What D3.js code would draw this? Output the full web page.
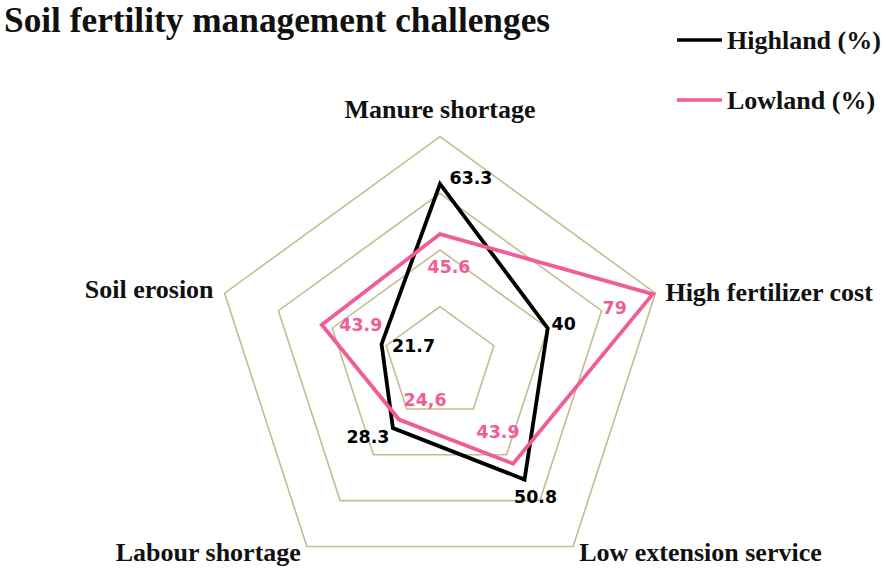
<!DOCTYPE html>
<html>
<head>
<meta charset="utf-8">
<script src="https://cdn.jsdelivr.net/npm/d3@7"></script>
<style>
  body { margin: 0; background: #fff; }
  .cat { font-family: "Liberation Serif", "Times New Roman", serif; font-weight: bold; font-size: 26px; fill: #111; }
  .val { font-family: "DejaVu Sans", Verdana, sans-serif; font-weight: bold; font-size: 17.4px; }
</style>
</head>
<body>
<div id="chart"></div>
<script>
const categories = ["Manure shortage", "High fertilizer cost", "Low extension service", "Labour shortage", "Soil erosion"]
const highland = [63.3, 40, 50.8, 28.3, 21.7]
const lowland = [45.6, 79, 43.9, 24.6, 43.9]
const lowlandText = ["45.6", "79", "43.9", "24,6", "43.9"]
const rings = [20, 40, 60, 80]

const width = 886, height = 569
const cx = 440, cy = 363.2

const svg = d3.select("#chart").append("svg").attr("width", width).attr("height", height)

const r = d3.scaleLinear().domain([0, 80]).range([0, 226.5])
const angle = d3.scaleLinear().domain([0, categories.length]).range([-Math.PI / 2, Math.PI * 1.5])
const pt = (v, i) => [cx + r(v) * Math.cos(angle(i)), cy + r(v) * Math.sin(angle(i))]

// grid pentagons
svg.append("g").selectAll("path").data(rings).enter().append("path")
  .attr("d", (v) => d3.line()(categories.map((_c, i) => pt(v, i))) + "Z")
  .attr("fill", "none").attr("stroke", "#c4bc8e").attr("stroke-width", 1.6)

const series = [
  { name: "Highland (%)", values: highland, text: highland.map(String), color: "#000000",
    offs: [[31, -6], [16, -4], [11, 17], [-25, 9], [32, 2]] },
  { name: "Lowland (%)", values: lowland, text: lowlandText, color: "#f25c96",
    offs: [[9, 33], [-38, 14], [-15, -32], [26, -20], [39, 0]] },
]

series.forEach((s) => {
  svg.append("path")
    .attr("d", d3.line()(s.values.map(pt)) + "Z")
    .attr("fill", "none").attr("stroke", s.color).attr("stroke-width", 3.8)
    .attr("stroke-linejoin", "miter")
})

series.forEach((s) => {
  svg.append("g").selectAll("text").data(s.values).enter().append("text")
    .attr("class", "val")
    .attr("x", (v, i) => pt(v, i)[0] + s.offs[i][0])
    .attr("y", (v, i) => pt(v, i)[1] + s.offs[i][1])
    .attr("text-anchor", "middle").attr("dominant-baseline", "central")
    .attr("fill", s.color)
    .text((_v, i) => s.text[i])
})

// category labels
const catPos = [
  { dx: 0, dy: -19, anchor: "middle" },
  { dx: 10, dy: 8, anchor: "start" },
  { dx: 6, dy: 15, anchor: "start" },
  { dx: -6, dy: 15, anchor: "end" },
  { dx: -11, dy: 5, anchor: "end" },
]
svg.append("g").selectAll("text").data(categories).enter().append("text")
  .attr("class", "cat")
  .attr("x", (_c, i) => pt(80, i)[0] + catPos[i].dx)
  .attr("y", (_c, i) => pt(80, i)[1] + catPos[i].dy)
  .attr("text-anchor", (_c, i) => catPos[i].anchor)
  .text((c) => c)

// title
svg.append("text").attr("x", 4).attr("y", 32)
  .attr("class", "cat").style("font-size", "35.3px")
  .text("Soil fertility management challenges")

// legend
const legend = svg.append("g").selectAll("g").data(series).enter().append("g")
  .attr("transform", (_s, i) => `translate(677, ${40 + i * 60})`)
legend.append("line").attr("x1", 0).attr("x2", 45).attr("y1", 0).attr("y2", 0)
  .attr("stroke", (s) => s.color).attr("stroke-width", 3.5)
legend.append("text").attr("class", "cat").attr("x", 50).attr("y", 9).text((s) => s.name)
</script>
</body>
</html>
